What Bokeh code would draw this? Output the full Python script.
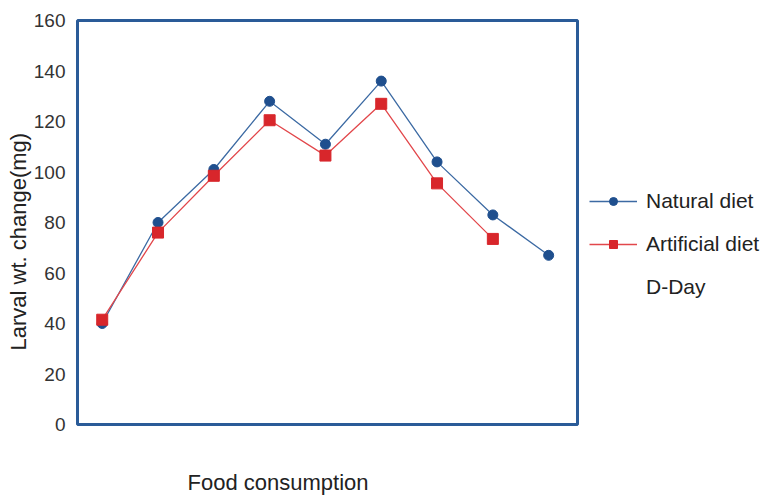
from bokeh.plotting import figure
from bokeh.models import Range1d, Legend, LegendItem, FixedTicker, Title
from bokeh.embed import file_html
from bokeh.resources import INLINE

# Data
x_nat = [1, 2, 3, 4, 5, 6, 7, 8, 9]
natural = [40, 80, 101, 128, 111, 136, 104, 83, 67]
x_art = [1, 2, 3, 4, 5, 6, 7, 8]
artificial = [41.5, 76, 98.5, 120.5, 106.5, 127, 95.5, 73.5]
y_ticks = [0, 20, 40, 60, 80, 100, 120, 140, 160]

BLUE = "#1f4f8e"
BLUE_LINE = "#3c6aa3"
RED = "#d8262b"
RED_LINE = "#e2474b"
FONT = "Liberation Sans"
TXT = "#222222"

p = figure(frame_width=500, frame_height=404,
           x_range=Range1d(0.557, 9.517), y_range=Range1d(0, 160),
           output_backend="svg", toolbar_location=None,
           min_border_left=77, min_border_top=20, min_border_bottom=72,
           min_border_right=186)

p.outline_line_color = "#2a5b98"
p.outline_line_width = 3
p.xgrid.visible = False
p.ygrid.visible = False
p.xaxis.visible = False

p.yaxis.ticker = FixedTicker(ticks=y_ticks)
p.yaxis.axis_line_color = None
p.yaxis.major_tick_line_color = None
p.yaxis.minor_tick_line_color = None
p.yaxis.major_tick_out = 0
p.yaxis.major_tick_in = 0
p.yaxis.minor_tick_out = 0
p.yaxis.major_label_standoff = 12
p.yaxis.major_label_text_font = FONT
p.yaxis.major_label_text_font_size = "19px"
p.yaxis.major_label_text_color = "#333333"

l1 = p.line(x_nat, natural, line_color=BLUE_LINE, line_width=1.3)
s1 = p.scatter(x_nat, natural, marker="circle", size=10, fill_color=BLUE, line_color=BLUE)
l2 = p.line(x_art, artificial, line_color=RED_LINE, line_width=1.3)
s2 = p.scatter(x_art, artificial, marker="square", size=11, fill_color=RED, line_color=RED)
dummy = p.line(x=[], y=[], line_alpha=0)

legend = Legend(items=[LegendItem(label="Natural diet", renderers=[l1, s1]),
                       LegendItem(label="Artificial diet", renderers=[l2, s2]),
                       LegendItem(label="D-Day", renderers=[dummy])],
                location=(12, 125), margin=0, padding=0,
                glyph_width=48, glyph_height=20, label_height=20,
                spacing=19, label_standoff=9,
                label_text_font=FONT, label_text_font_size="21px",
                label_text_color=TXT,
                border_line_color=None, background_fill_alpha=0)
p.add_layout(legend, "right")

p.add_layout(Title(text="Food  consumption", align="left", offset=110,
                   vertical_align="middle", standoff=88,
                   text_font=FONT, text_font_size="22px",
                   text_font_style="normal", text_color=TXT), "below")
p.add_layout(Title(text="Larval wt. change(mg)", align="left", offset=74,
                   standoff=0,
                   text_font=FONT, text_font_size="22px",
                   text_font_style="normal", text_color=TXT), "left")

open("out.html", "w").write(file_html(p, INLINE))
